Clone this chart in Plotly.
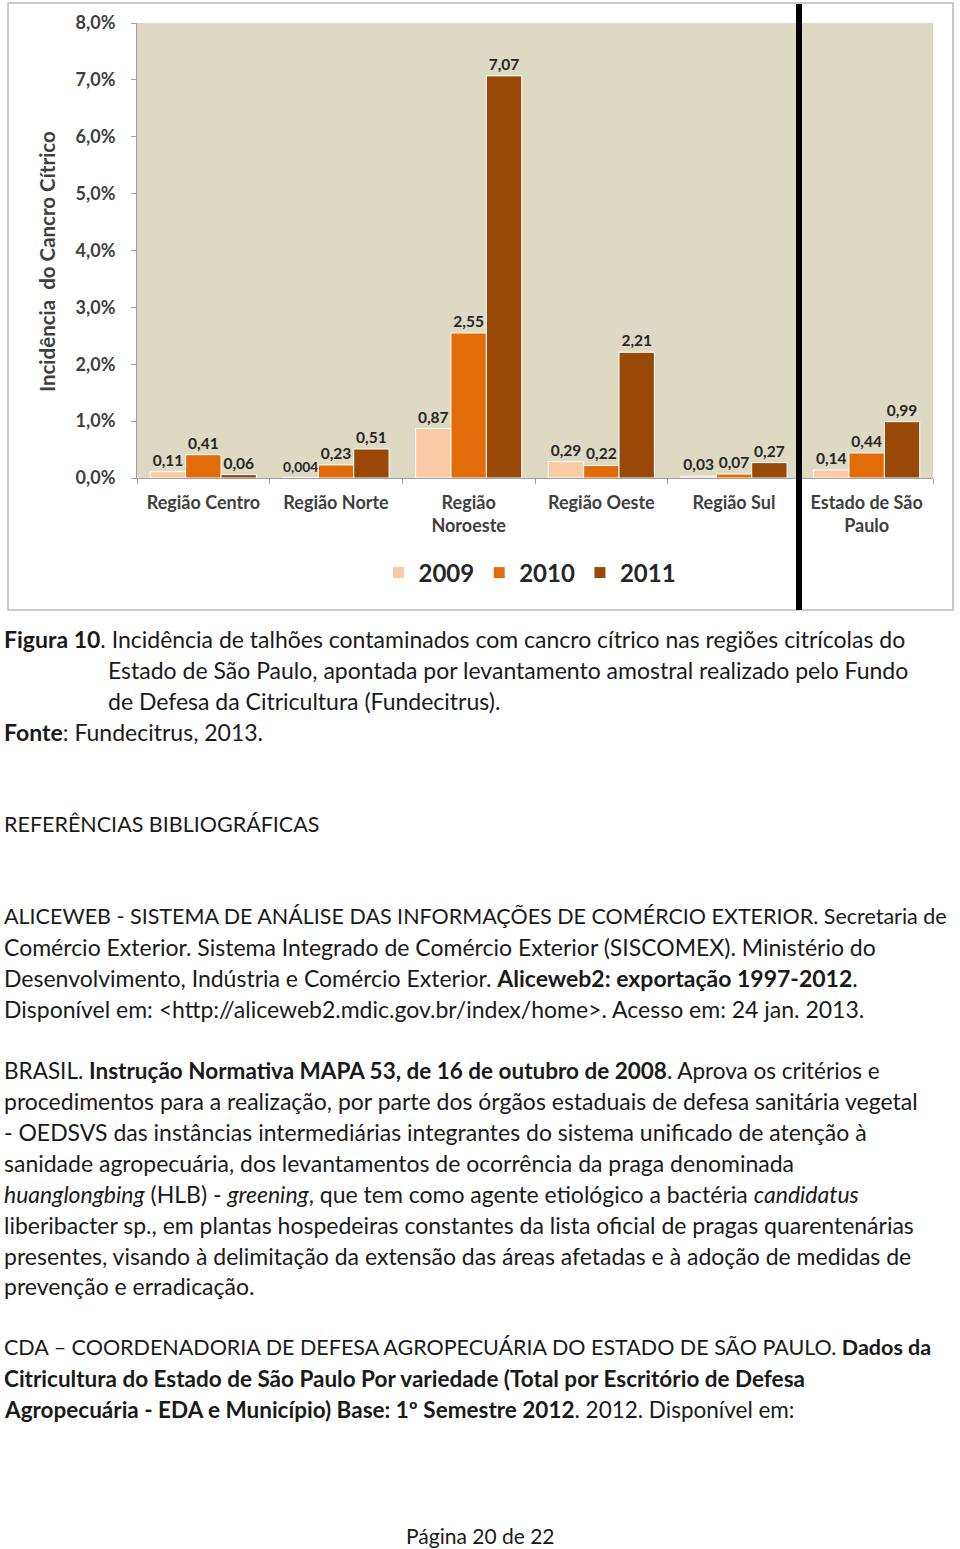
import plotly.graph_objects as go

# ---------------- data ----------------
categories = ["Região Centro", "Região Norte", "Região<br>Noroeste", "Região Oeste",
              "Região Sul", "Estado de São<br>Paulo"]
years = ["2009", "2010", "2011"]
values_2009 = [0.11, 0.004, 0.87, 0.29, 0.03, 0.14]
values_2010 = [0.41, 0.23, 2.55, 0.22, 0.07, 0.44]
values_2011 = [0.06, 0.51, 7.07, 2.21, 0.27, 0.99]
y_tick_values = [0, 1, 2, 3, 4, 5, 6, 7, 8]
y_tick_labels = ["0,0%", "1,0%", "2,0%", "3,0%", "4,0%", "5,0%", "6,0%", "7,0%", "8,0%"]
colors = ["#FAC9A6", "#E36C0A", "#984807"]

W, H = 960, 1549
def px(x):
    return x / W
def py(y):
    return 1 - y / H

def lab(v):
    return str(v).replace(".", ",")

CHART_FONT = "Lato"
TEXT_FONT = "Lato"

fig = go.Figure()
for yr, vals, c in zip(years, [values_2009, values_2010, values_2011], colors):
    fig.add_trace(go.Bar(
        name=yr, x=categories, y=vals, marker=dict(color=c, line=dict(color="white", width=1)),
        text=[lab(v) for v in vals], textposition="outside", cliponaxis=False,
        textfont=dict(family=CHART_FONT, size=15.5, color="#262626", weight="bold"),
    ))

fig.update_layout(
    width=W, height=H, margin=dict(l=0, r=0, t=0, b=0, autoexpand=False),
    paper_bgcolor="white", plot_bgcolor="#DDD9C3",
    barmode="group", bargap=0.2, bargroupgap=0,
    showlegend=True,
    legend=dict(orientation="h", x=px(530), xanchor="center", y=py(573), yanchor="middle",
                font=dict(family=CHART_FONT, size=24, color="#262626", weight="bold"),
                itemwidth=30, bgcolor="rgba(0,0,0,0)"),
    xaxis=dict(domain=[px(137), px(933)], showline=True, linecolor="#A0A0A0", linewidth=1,
               automargin=False,
               ticks="outside", tickson="boundaries", ticklen=5, tickcolor="#A0A0A0",
               ticklabelstandoff=8,
               tickfont=dict(family=CHART_FONT, size=18, color="#404040", weight="bold"),
               showgrid=False),
    yaxis=dict(domain=[py(478), py(23)], range=[0, 8], tickvals=y_tick_values,
               ticktext=y_tick_labels, showline=True, linecolor="#A0A0A0", linewidth=1,
               automargin=False,
               ticks="outside", ticklen=5, tickcolor="#A0A0A0", showgrid=False, zeroline=False,
               ticklabelstandoff=12,
               tickfont=dict(family=CHART_FONT, size=18, color="#404040", weight="bold")),
)

shapes = [
    dict(type="rect", xref="paper", yref="paper", x0=px(8), x1=px(953), y0=py(3), y1=py(610),
         line=dict(color="#B8B8B8", width=1.5), fillcolor="rgba(0,0,0,0)", layer="below"),
    dict(type="line", xref="paper", yref="paper", x0=px(799), x1=px(799), y0=py(4), y1=py(610),
         line=dict(color="black", width=6)),
]
fig.update_layout(shapes=shapes)

annotations = [
    dict(text="<b>Incidência  do Cancro Cítrico</b>", x=px(47), y=py(262), textangle=-90,
         xanchor="center", yanchor="middle",
         font=dict(family=CHART_FONT, size=20.5, color="#404040")),
]

# (x, y, size, text)
text_lines = [
    (2, 639, 23, "<b>Figura 10</b>. Incidência de talhões contaminados com cancro cítrico nas regiões citrícolas do"),
    (106, 670, 23, "Estado de São Paulo, apontada por levantamento amostral realizado pelo Fundo"),
    (106, 701, 23, "de Defesa da Citricultura (Fundecitrus)."),
    (2, 732, 23, "<b>Fonte</b>: Fundecitrus, 2013."),
    (2, 824, 21.5, "REFERÊNCIAS BIBLIOGRÁFICAS"),
    (2, 916, 21.5, "ALICEWEB - SISTEMA DE ANÁLISE DAS INFORMAÇÕES DE COMÉRCIO EXTERIOR. Secretaria de"),
    (2, 947, 23, "Comércio Exterior. Sistema Integrado de Comércio Exterior (SISCOMEX). Ministério do"),
    (2, 978, 23, "Desenvolvimento, Indústria e Comércio Exterior. <b>Aliceweb2: exportação 1997-2012</b>."),
    (2, 1009, 23, "Disponível em: &lt;http://aliceweb2.mdic.gov.br/index/home&gt;. Acesso em: 24 jan. 2013."),
    (2, 1070, 22.5, "BRASIL. <b>Instrução Normativa MAPA 53, de 16 de outubro de 2008</b>. Aprova os critérios e"),
    (2, 1101, 23, "procedimentos para a realização, por parte dos órgãos estaduais de defesa sanitária vegetal"),
    (2, 1132, 23, "- OEDSVS das instâncias intermediárias integrantes do sistema unificado de atenção à"),
    (2, 1163, 23, "sanidade agropecuária, dos levantamentos de ocorrência da praga denominada"),
    (2, 1194, 23, "<i>huanglongbing</i> (HLB) - <i>greening</i>, que tem como agente etiológico a bactéria <i>candidatus</i>"),
    (2, 1225, 23, "liberibacter sp., em plantas hospedeiras constantes da lista oficial de pragas quarentenárias"),
    (2, 1256, 23, "presentes, visando à delimitação da extensão das áreas afetadas e à adoção de medidas de"),
    (2, 1286, 23, "prevenção e erradicação."),
    (2, 1347, 21.5, "CDA – COORDENADORIA DE DEFESA AGROPECUÁRIA DO ESTADO DE SÃO PAULO. <b>Dados da</b>"),
    (2, 1378, 22.5, "<b>Citricultura do Estado de São Paulo Por variedade (Total por Escritório de Defesa</b>"),
    (2, 1409, 22.5, "<b>Agropecuária - EDA e Município) Base: 1º Semestre 2012</b>. 2012. Disponível em:"),
]
for x, y, s, t in text_lines:
    annotations.append(dict(text=t, x=px(x), y=py(y), xanchor="left", yanchor="middle",
                            font=dict(family=TEXT_FONT, size=s, color="#1a1a1a")))
annotations.append(dict(text="Página 20 de 22", x=0.5, y=py(1535), xanchor="center", yanchor="middle",
                        font=dict(family=TEXT_FONT, size=21, color="#1a1a1a")))
for a in annotations:
    a.setdefault("xref", "paper")
    a.setdefault("yref", "paper")
    a.setdefault("showarrow", False)
fig.update_layout(annotations=annotations)

fig.write_html("out.html", post_script="document.body.style.margin='0';",
               config={"displayModeBar": False})
